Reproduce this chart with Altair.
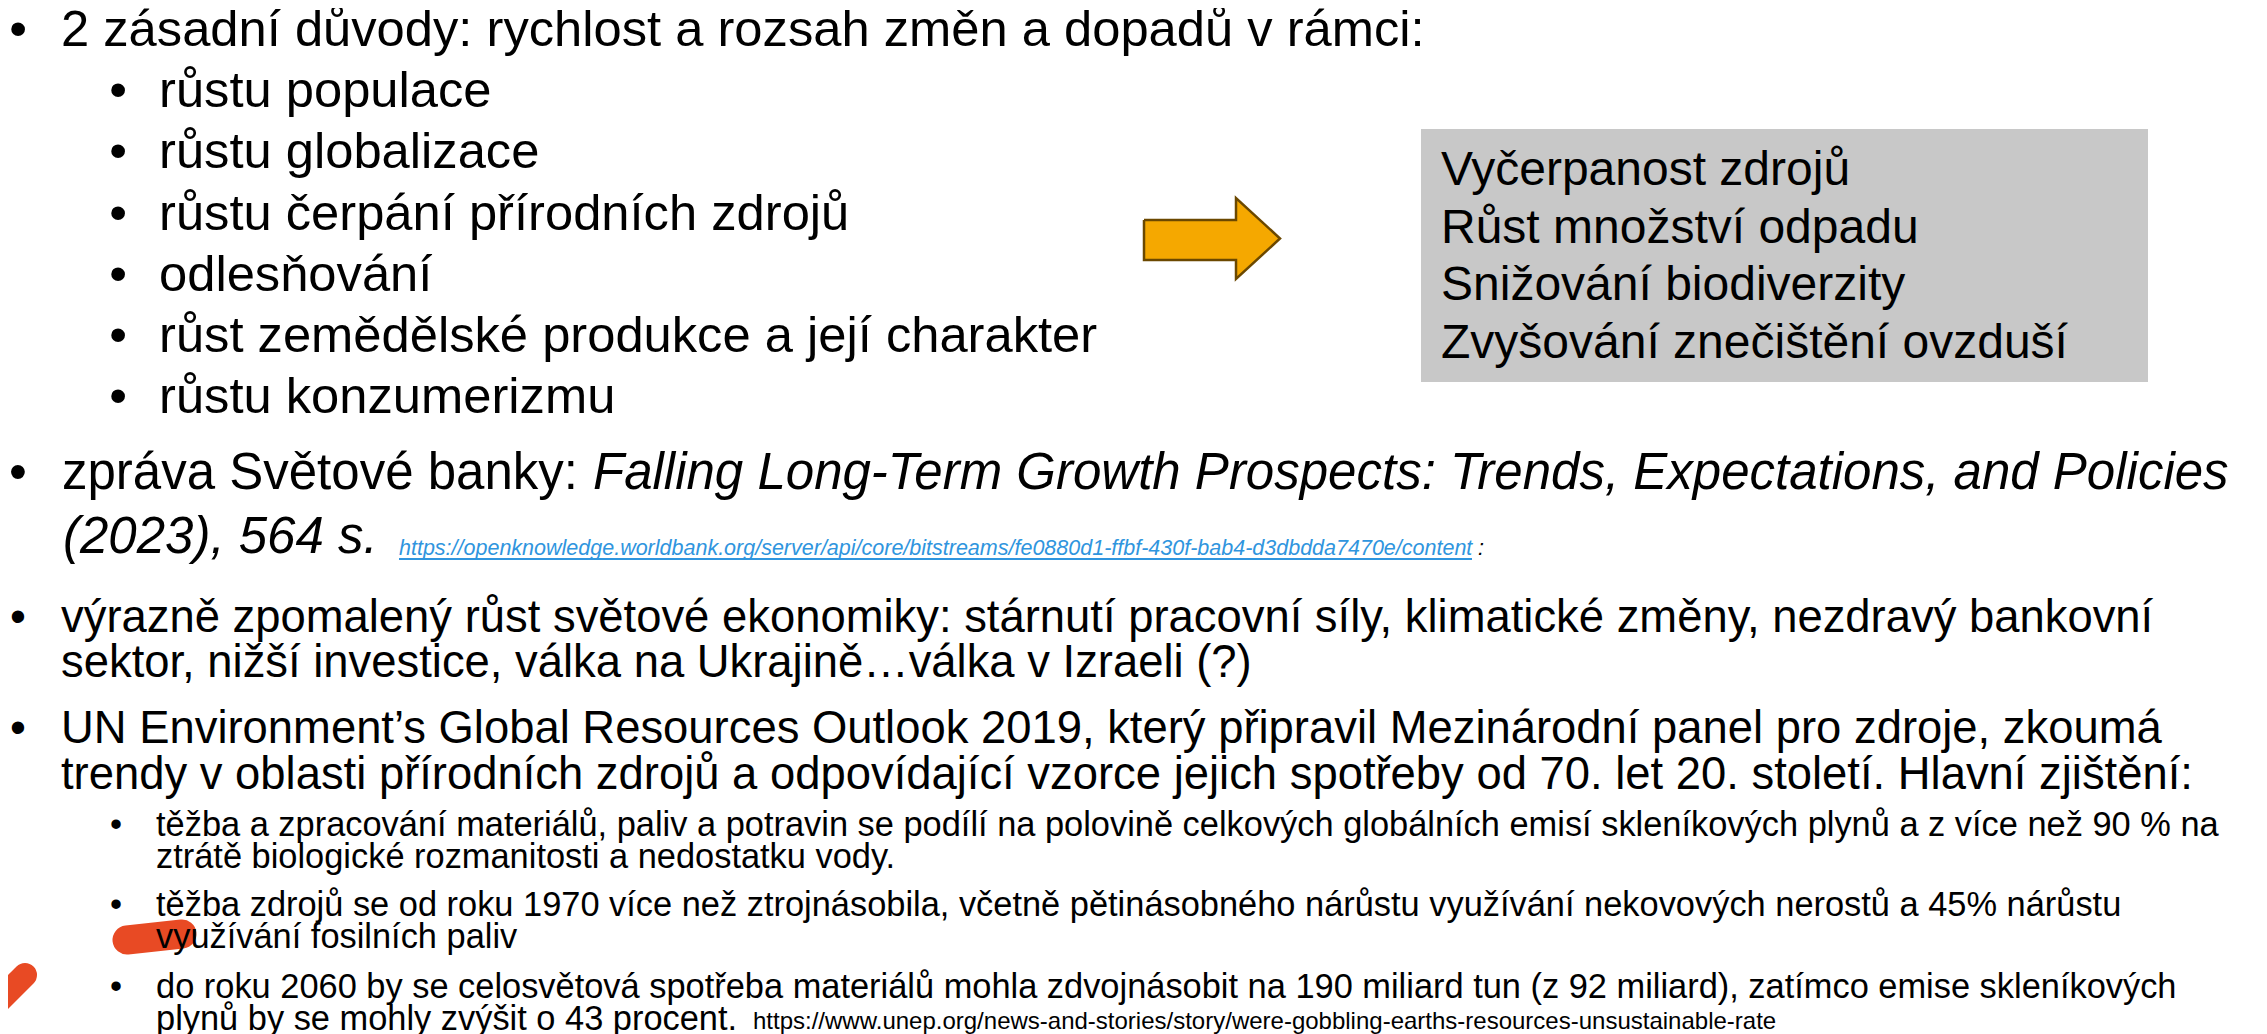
import altair as alt
import pandas as pd

# ---------------- content ----------------
lead_bullet = "2 zásadní důvody: rychlost a rozsah změn a dopadů v rámci:"
growth_items = [
    "růstu populace",
    "růstu globalizace",
    "růstu čerpání přírodních zdrojů",
    "odlesňování",
    "růst zemědělské produkce a její charakter",
    "růstu konzumerizmu",
]
box_items = [
    "Vyčerpanost zdrojů",
    "Růst množství odpadu",
    "Snižování biodiverzity",
    "Zvyšování znečištění ovzduší",
]
wb_prefix = "zpráva Světové banky:"
wb_title = "Falling Long-Term Growth Prospects: Trends, Expectations, and Policies"
wb_year = "(2023), 564 s."
wb_link = "https://openknowledge.worldbank.org/server/api/core/bitstreams/fe0880d1-ffbf-430f-bab4-d3dbdda7470e/content"
wb_colon = ":"
slow_lines = [
    "výrazně zpomalený růst světové ekonomiky: stárnutí pracovní síly, klimatické změny, nezdravý bankovní",
    "sektor, nižší investice, válka na Ukrajině…válka v Izraeli (?)",
]
un_lines = [
    "UN Environment’s Global Resources Outlook 2019, který připravil Mezinárodní panel pro zdroje, zkoumá",
    "trendy v oblasti přírodních zdrojů a odpovídající vzorce jejich spotřeby od 70. let 20. století. Hlavní zjištění:",
]
findings = [
    ["těžba a zpracování materiálů, paliv a potravin se podílí na polovině celkových globálních emisí skleníkových plynů a z více než 90 % na",
     "ztrátě biologické rozmanitosti a nedostatku vody."],
    ["těžba zdrojů se od roku 1970 více než ztrojnásobila, včetně pětinásobného nárůstu využívání nekovových nerostů a 45% nárůstu",
     "využívání fosilních paliv"],
    ["do roku 2060 by se celosvětová spotřeba materiálů mohla zdvojnásobit na 190 miliard tun (z 92 miliard), zatímco emise skleníkových",
     "plynů by se mohly zvýšit o 43 procent."],
]
unep_link = "https://www.unep.org/news-and-stories/story/were-gobbling-earths-resources-unsustainable-rate"

# ---------------- layout (page pixel coordinates) ----------------
FONT = "Liberation Sans, Arial, Helvetica, sans-serif"
BLACK = "#000000"
LINK = "#2f95de"
BULLET = "•"

X_B1, X_T1 = 18, 61      # level-1 bullet / text
X_B2, X_T2 = 118, 159    # level-2 (top list)
X_B3, X_T3 = 116, 156    # level-2 (findings)

normal, italic, bullets = [], [], []

def add(lst, text, x, y, size, color=BLACK):
    lst.append(dict(text=text, x=x, y=y, size=size, color=color))

# top block
TOP_Y0, TOP_STEP, TOP_FS = 31, 61.2, 50.7
add(bullets, BULLET, X_B1, TOP_Y0, TOP_FS)
add(normal, lead_bullet, X_T1, TOP_Y0, TOP_FS)
for i, t in enumerate(growth_items):
    y = TOP_Y0 + TOP_STEP * (i + 1)
    add(bullets, BULLET, X_B2, y, TOP_FS)
    add(normal, t, X_T2, y, TOP_FS)

# box text
BOX_X, BOX_Y0, BOX_STEP, BOX_FS = 1441, 171, 57.5, 48
for i, t in enumerate(box_items):
    add(normal, t, BOX_X, BOX_Y0 + BOX_STEP * i, BOX_FS)

# World Bank bullet
WB_Y, WB_FS = 474, 51
add(bullets, BULLET, X_B1, WB_Y, WB_FS)
add(normal, wb_prefix, 62, WB_Y, WB_FS)
add(italic, wb_title, 593, WB_Y, WB_FS)
YR_Y = 538
add(italic, wb_year, 63, YR_Y, WB_FS)
LINK_X0, LINK_X1, LINK_Y, LINK_FS = 399, 1472, 549, 21.5
add(italic, wb_link, LINK_X0, LINK_Y, LINK_FS, LINK)
add(italic, wb_colon, 1478, LINK_Y, LINK_FS)

# slow growth bullet
SL_Y0, SL_STEP, SL_FS = 618, 45, 45.4
add(bullets, BULLET, X_B1, SL_Y0, SL_FS)
for i, t in enumerate(slow_lines):
    add(normal, t, X_T1, SL_Y0 + SL_STEP * i, SL_FS)

# UN bullet
UN_Y0, UN_STEP, UN_FS = 729, 46, 45.4
add(bullets, BULLET, X_B1, UN_Y0, UN_FS)
for i, t in enumerate(un_lines):
    add(normal, t, X_T1, UN_Y0 + UN_STEP * i, UN_FS)

# findings
F_Y0 = [826, 906, 988]
F_STEP, F_FS = 32, 34.4
for y0, lines in zip(F_Y0, findings):
    add(bullets, BULLET, X_B3, y0, F_FS)
    for j, t in enumerate(lines):
        add(normal, t, X_T3, y0 + F_STEP * j, F_FS)
add(normal, unep_link, 753, F_Y0[-1] + F_STEP + 2, 24)

# ---------------- scales ----------------
W, H, M = 2267, 1034, 8
xs = alt.Scale(domain=[M, W - M], nice=False, zero=False)
ys = alt.Scale(domain=[M, H], nice=False, zero=False, reverse=True)

def X(f="x"):
    return alt.X(f"{f}:Q", scale=xs, axis=None)

def Y(f="y"):
    return alt.Y(f"{f}:Q", scale=ys, axis=None)

def text_layer(rows, **kw):
    return alt.Chart(pd.DataFrame(rows)).mark_text(font=FONT, baseline="middle", **kw).encode(
        x=X(), y=Y(), text="text:N",
        size=alt.Size("size:Q", scale=None),
        color=alt.Color("color:N", scale=None),
    )

# grey box
box = alt.Chart(pd.DataFrame([dict(x=1421, x2=2148, y=129, y2=382)])).mark_rect(color="#c8c8c8").encode(
    x=X(), x2="x2:Q", y=Y(), y2="y2:Q")

# arrow
AX0, AXH, AX1 = 1144, 1236, 1280
AY0, AYS0, AYS1, AY1 = 198, 220, 260, 279
AYM = (AY0 + AY1) / 2
shaft = alt.Chart(pd.DataFrame([dict(x=AX0, x2=AXH + 2, y=AYS0, y2=AYS1)])).mark_rect(color="#f5a800").encode(
    x=X(), x2="x2:Q", y=Y(), y2="y2:Q")
head = alt.Chart(pd.DataFrame([dict(x=AXH, y=AY0, y2=AY1), dict(x=AX1, y=AYM, y2=AYM)])).mark_area(
    color="#f5a800", orient="vertical").encode(x=X(), y=Y(), y2="y2:Q")
outline_pts = [(AX0, AYS0), (AXH, AYS0), (AXH, AY0), (AX1, AYM), (AXH, AY1), (AXH, AYS1), (AX0, AYS1), (AX0, AYS0)]
outline = alt.Chart(pd.DataFrame([dict(i=i, x=p[0], y=p[1]) for i, p in enumerate(outline_pts)])).mark_line(
    color="#6b4800", strokeWidth=2.5, strokeJoin="miter").encode(x=X(), y=Y(), order="i:Q")

# link underline
underline = alt.Chart(pd.DataFrame([dict(x=LINK_X0, x2=LINK_X1, y=LINK_Y + 10)])).mark_rule(
    color=LINK, strokeWidth=2).encode(x=X(), x2="x2:Q", y=Y())

# red marker strokes
marker1 = alt.Chart(pd.DataFrame([dict(i=0, x=127, y=940), dict(i=1, x=182, y=934)])).mark_line(
    color="#e84a24", strokeWidth=29, strokeCap="round").encode(x=X(), y=Y(), order="i:Q")
marker2 = alt.Chart(pd.DataFrame([dict(i=0, x=-12, y=1012), dict(i=1, x=25, y=975)])).mark_line(
    color="#e84a24", strokeWidth=24, strokeCap="round").encode(x=X(), y=Y(), order="i:Q")

chart = alt.layer(
    box, shaft, head, outline, underline, marker1, marker2,
    text_layer(normal, align="left"),
    text_layer(italic, align="left", fontStyle="italic"),
    text_layer(bullets, align="center"),
).properties(
    width=W - 2 * M, height=H - M,
    padding=0,
    autosize=alt.AutoSizeParams(type="none"),
    background="white",
).configure_view(stroke=None)

chart.save("out.html", embed_options={"renderer": "svg", "actions": False})
